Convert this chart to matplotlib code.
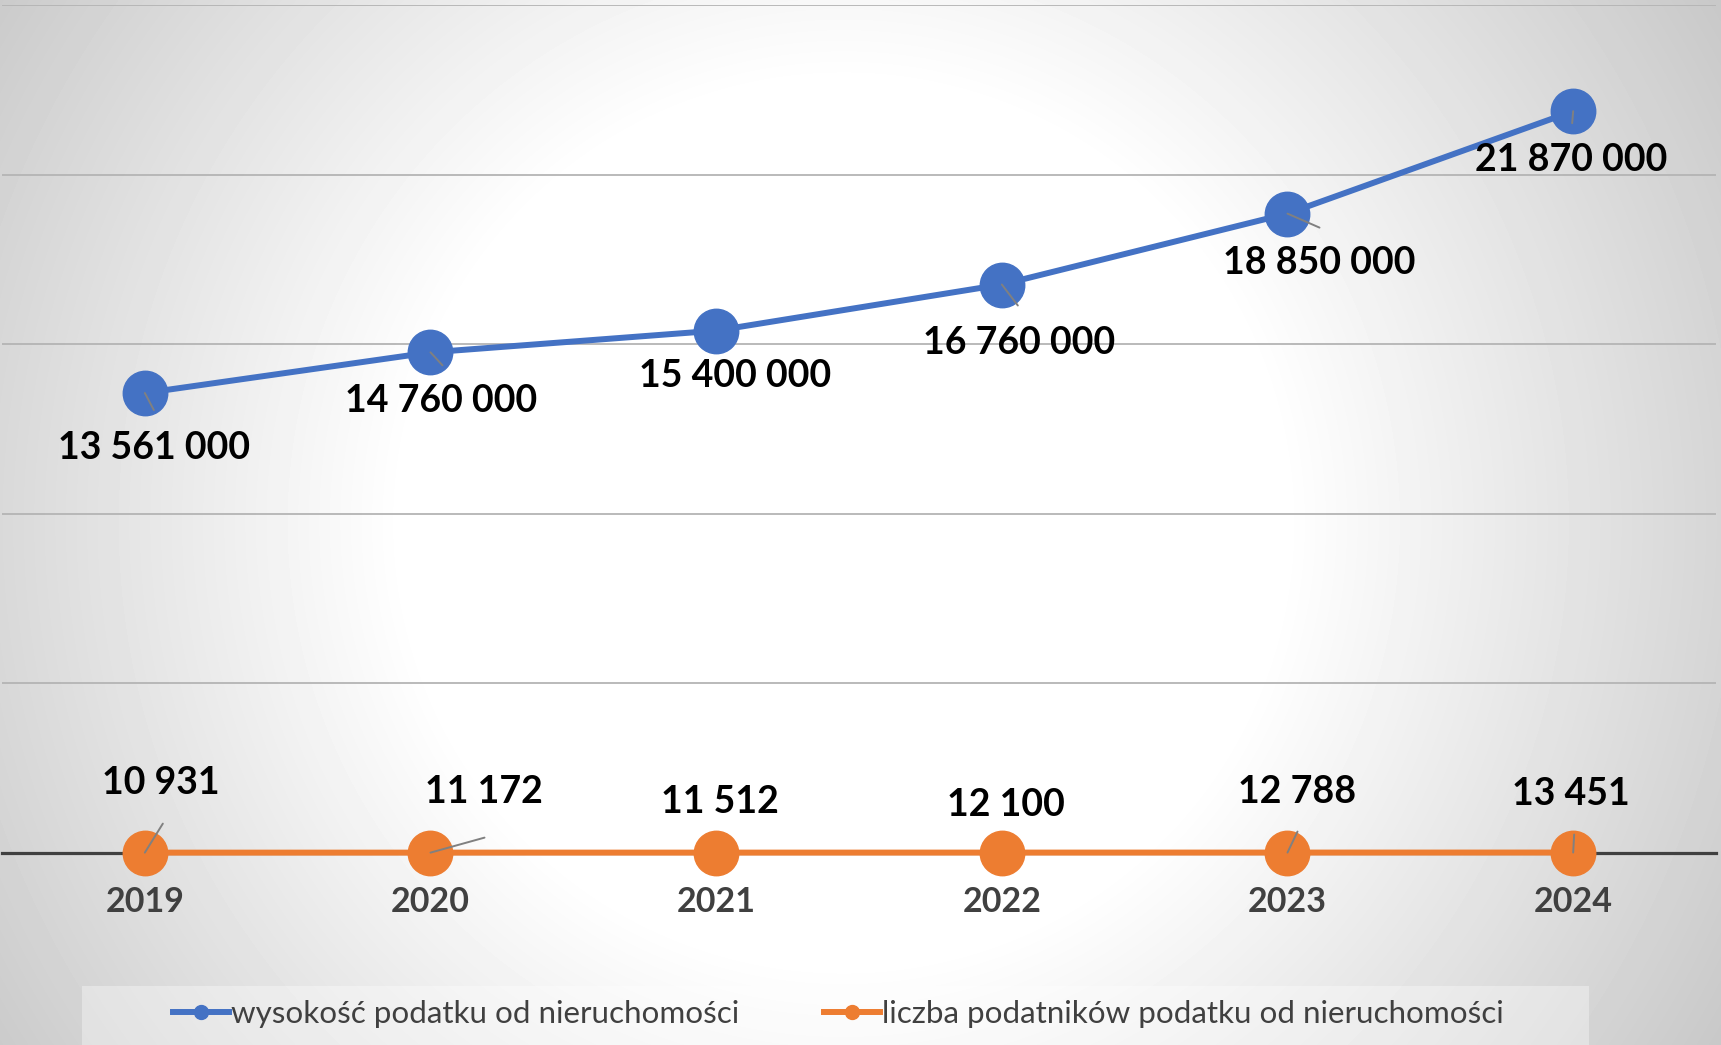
import numpy as np
import matplotlib
matplotlib.use("Agg")
import matplotlib.pyplot as plt
from matplotlib.patches import Rectangle
from matplotlib.lines import Line2D

# Data
years = ["2019", "2020", "2021", "2022", "2023", "2024"]
tax_amount = [13561000, 14760000, 15400000, 16760000, 18850000, 21870000]
taxpayers = [10931, 11172, 11512, 12100, 12788, 13451]
series_names = ["wysokość podatku od nieruchomości",
                "liczba podatników podatku od nieruchomości"]

BLUE = "#4472C4"
ORANGE = "#ED7D31"
DARK = "#404040"
FONT = ["Lato", "DejaVu Sans"]

W, H, DPI = 1721, 1045, 100
fig = plt.figure(figsize=(W / DPI, H / DPI), dpi=DPI)

# radial background gradient (white centre -> grey corners)
bg = fig.add_axes([0, 0, 1, 1], zorder=-10)
yy, xx = np.mgrid[0:H, 0:W]
d = np.sqrt((xx - 0.49 * W) ** 2 + (yy - 0.5 * H) ** 2)
shade = 1 - 0.00037 * np.clip(d - 440, 0, None)
bg.imshow(shade, cmap="gray", vmin=0, vmax=1, aspect="auto",
          interpolation="bilinear")
bg.axis("off")

# main axes
ax = fig.add_axes([2 / W, 1 - 853 / H, 1714 / W, 848 / H])
ax.patch.set_alpha(0)
x = np.arange(len(years))

ax.plot(x, tax_amount, color=BLUE, lw=4.3, marker="o", ms=32,
        mec=BLUE, zorder=4, clip_on=False)
ax.plot(x, taxpayers, color=ORANGE, lw=4.3, marker="o", ms=32,
        mec=ORANGE, zorder=4, clip_on=False)

ax.set_xlim(-0.5, len(years) - 0.5)
ax.set_ylim(0, 25000000)
ax.set_yticks(np.arange(5000000, 25000001, 5000000))
ax.yaxis.grid(True, color="#b4b4b4", lw=1.3)
ax.set_axisbelow(True)
ax.tick_params(axis="y", left=False, labelleft=False)
ax.set_xticks(x)
ax.set_xticklabels(years, fontsize=24.5, fontweight="bold", color=DARK,
                   family=FONT)
ax.tick_params(axis="x", length=0, pad=24)
for s in ["top", "left", "right"]:
    ax.spines[s].set_visible(False)
ax.spines["bottom"].set_color(DARK)
ax.spines["bottom"].set_linewidth(2.3)
ax.spines["bottom"].set_zorder(3)


def fmt(v):
    return f"{v:,}".replace(",", " ")


# label offsets in pixels (dx, dy downward) and leader line ends
tax_off = [(9, 55), (11, 49), (19, 45), (17, 58), (32, 49), (-2, 49)]
tax_lead = [(9, 17), (12, 13), None, (16, 21), (32, 14), (-1, 12)]
payer_off = [(16, -70), (53, -61), (4, -51), (4, -48), (10, -61), (-2, -59)]
payer_lead = [(18, -29), (54, -15), None, None, (10, -21), (1, -18)]

p = 72 / DPI
for series, offs, leads in [(tax_amount, tax_off, tax_lead),
                            (taxpayers, payer_off, payer_lead)]:
    for i, v in enumerate(series):
        dx, dy = offs[i]
        ax.annotate(fmt(v), (x[i], v), xytext=(dx * p, -dy * p),
                    textcoords="offset points", ha="center", va="center",
                    fontsize=27, fontweight="bold", color="black",
                    family=FONT, zorder=6, annotation_clip=False)
        if leads[i] is not None:
            lx, ly = leads[i]
            ax.annotate("", (x[i], v), xytext=(lx * p, -ly * p),
                        textcoords="offset points",
                        arrowprops=dict(arrowstyle="-", color="#808080",
                                        lw=1.4, shrinkA=0, shrinkB=0),
                        zorder=5, annotation_clip=False)

# legend box and legend
fig.patches.append(Rectangle((82 / W, 0), 1507 / W, 59 / H,
                             transform=fig.transFigure, fc="white",
                             alpha=0.35, ec="none", zorder=-5))
handles = [Line2D([], [], color=BLUE, lw=4.3, marker="o", ms=10),
           Line2D([], [], color=ORANGE, lw=4.3, marker="o", ms=10)]
leg = fig.legend(handles, series_names, loc="center",
                 bbox_to_anchor=(838 / W, 1 - 1014 / H), ncol=2,
                 frameon=False, handlelength=1.8, handletextpad=0.05,
                 columnspacing=2.7, prop={"family": FONT, "size": 22.6})
for t in leg.get_texts():
    t.set_color(DARK)

fig.savefig("out.png", dpi=DPI)
